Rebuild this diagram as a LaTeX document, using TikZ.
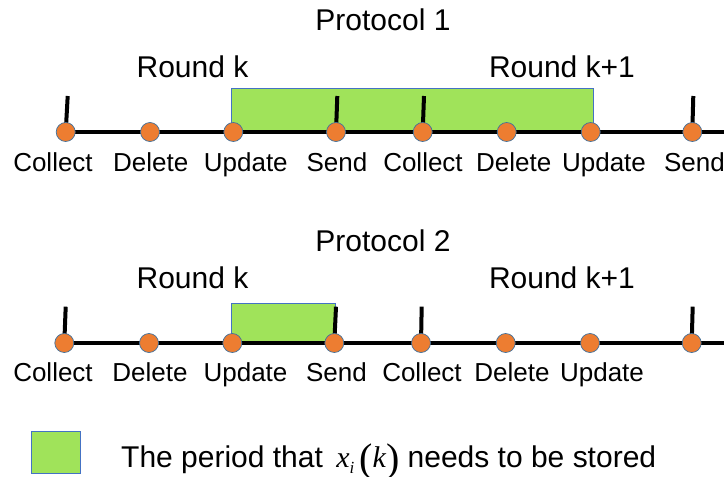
\documentclass[tikz,border=0pt]{standalone}
\usepackage{fix-cm}
\usepackage{fontspec}
\setmainfont{Liberation Sans}
\newfontfamily\serifmath{Liberation Serif}
\usetikzlibrary{positioning}

\definecolor{dotorange}{HTML}{ED7D31}
\definecolor{dotedge}{HTML}{41719C}
\definecolor{storegreen}{HTML}{A0E35A}
\definecolor{storeedge}{HTML}{4472C4}

% big parenthesis of the legend formula
\newcommand{\bigparen}[1]{\raisebox{-4pt}{\fontsize{40}{40}\selectfont\serifmath #1}}
% italic letters of the legend formula
\newcommand{\varit}[1]{{\serifmath\itshape #1}}

\begin{document}
\begin{tikzpicture}[x=1pt, y=-1pt,
    event/.style={circle, fill=dotorange, draw=dotedge, line width=0.7pt, minimum size=19pt, inner sep=0pt},
    lbl/.style={anchor=base, font=\fontsize{26}{30}\selectfont},
    ttl/.style={anchor=base, font=\fontsize{30}{34}\selectfont},
    stored/.style={fill=storegreen, draw=storeedge, line width=0.6pt},
    axis/.style={line width=4pt},
    tickline/.style={line width=4pt}]

    \useasboundingbox (0,0) rectangle (724,477);

    % protocol 1
    \node[ttl] (prot1) at (383,30) {Protocol 1};
    \node[ttl] (rk1)  at (192.5,77) {Round k};
    \node[ttl] (rkk1) at (562,77) {Round k+1};

    \foreach \n/\x in {1/65.7, 2/150, 3/233.3, 4/336, 5/422.7, 6/506.7, 7/590.7, 8/692.3}
        \coordinate (a\n) at (\x,132);

    \draw[stored] (231.7,88) rectangle (593,132);
    \draw[axis] (a1) -- (724,132);
    \foreach \n/\dx in {1/2, 4/1.3, 5/1.3, 8/1}
        \draw[tickline] (a\n) -- ++(\dx,-36);
    \foreach \n in {1,...,8}
        \node[event] (da\n) at (a\n) {};

    \foreach \n/\x/\t in {1/53/Collect, 2/150.7/Delete, 3/245.8/Update, 4/337/Send,
                          5/423/Collect, 6/513.7/Delete, 7/604/Update, 8/694.5/Send}
        \node[lbl] (la\n) at (\x,171) {\t};

    % protocol 2
    \node[ttl] (prot2) at (383,251) {Protocol 2};
    \node[ttl] (rk2)  at (192.5,288) {Round k};
    \node[ttl] (rkk2) at (562,288) {Round k+1};

    \foreach \n/\x in {1/64.3, 2/149, 3/232.3, 4/334.3, 5/421, 6/505.7, 7/590, 8/691.7}
        \coordinate (b\n) at (\x,343);

    \draw[stored] (231.7,303) rectangle (335,343);
    \draw[axis] (b1) -- (724,343);
    \foreach \n/\dx in {1/1.4, 4/1.7, 5/0.7, 8/1}
        \draw[tickline] (b\n) -- ++(\dx,-36.3);
    \foreach \n in {1,...,8}
        \node[event] (db\n) at (b\n) {};

    \foreach \n/\x/\t in {1/53/Collect, 2/150/Delete, 3/245.5/Update, 4/336.5/Send,
                          5/422/Collect, 6/512/Delete, 7/602/Update}
        \node[lbl] (lb\n) at (\x,381) {\t};

    % legend
    \draw[stored] (31,431) rectangle (80,473);
    \node[ttl, anchor=base west, inner sep=1pt] (legend) at (120,467)
        {The period that \,\varit{x}\raisebox{-6pt}{\fontsize{17}{17}\selectfont\varit{i}}\,\bigparen{(}\varit{k}\bigparen{)} needs to be stored};

\end{tikzpicture}
\end{document}
